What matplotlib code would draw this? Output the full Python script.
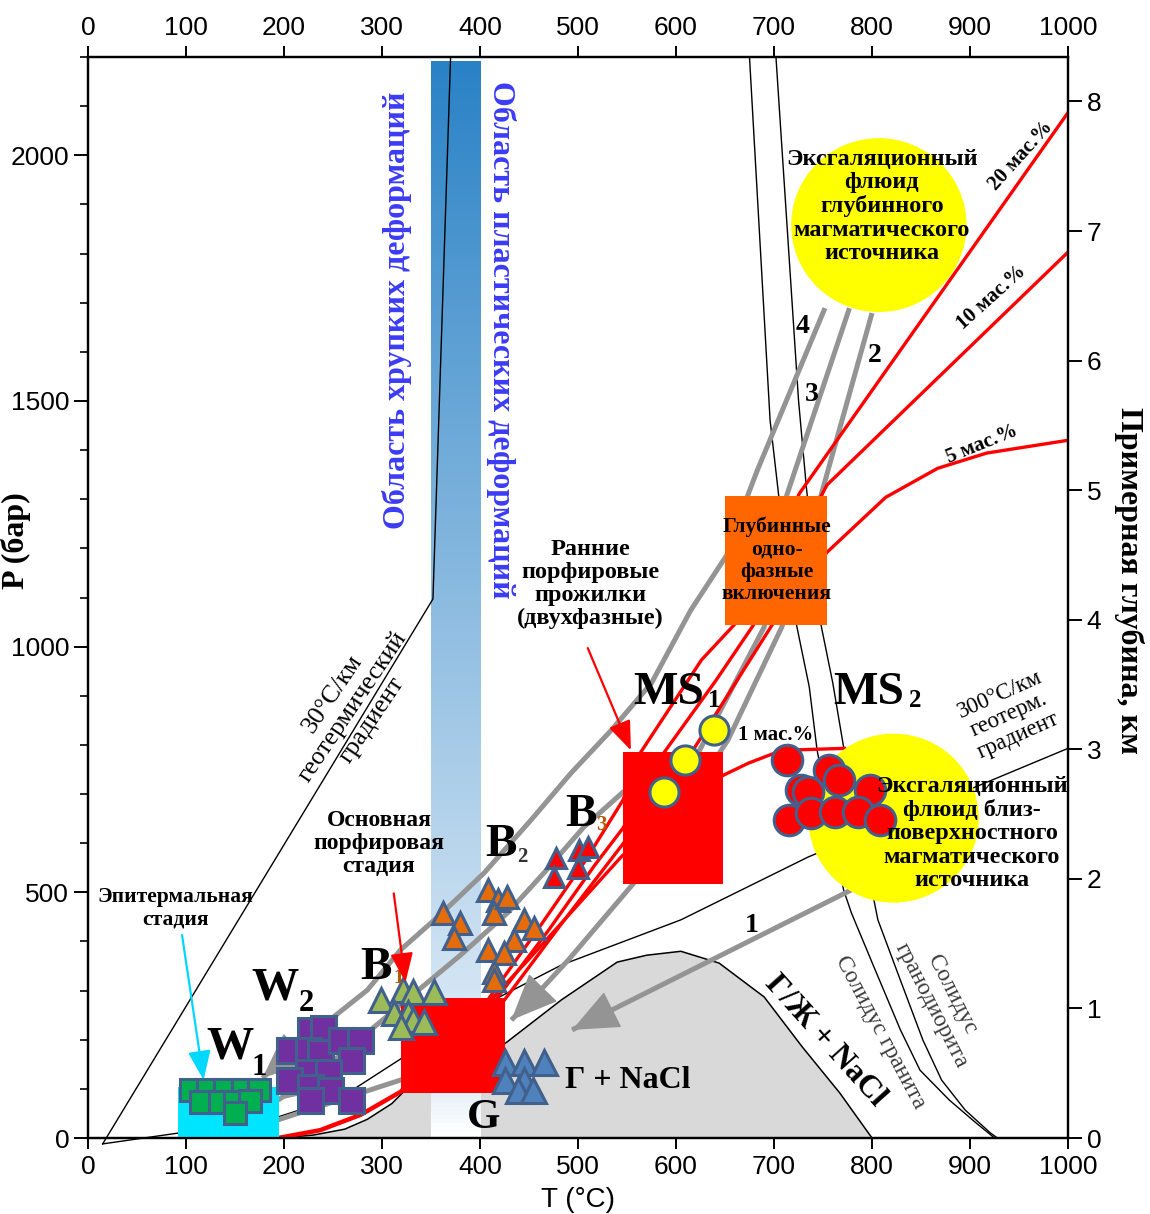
import numpy as np
import matplotlib
matplotlib.use('Agg')
import matplotlib.pyplot as plt
from matplotlib.patches import Rectangle, Ellipse, Polygon
from matplotlib.colors import LinearSegmentedColormap

SERIF = ['Liberation Serif', 'DejaVu Serif']
SANS = ['Liberation Sans', 'DejaVu Sans']

# ---------------- data (T in °C, P in bar) ----------------
x_ticks = list(range(0, 1001, 100))
p_major = [0, 500, 1000, 1500, 2000]
depth_ticks = [0, 1, 2, 3, 4, 5, 6, 7, 8]
BAR_PER_KM = 263.7

geo30_T = [15, 352, 370]
geo30_P = [-12, 1097, 2200]

geo300_T = [15, 92, 194, 260, 330, 418, 483, 605, 735, 905, 1000]
geo300_P = [-12, 10, 43, 85, 175, 285, 352, 444, 572, 714, 793]

halite_T = [195, 230, 262, 285, 310, 325, 370, 426, 483, 540, 570, 605, 644, 690, 729, 767, 800]
halite_P = [0, 6, 18, 38, 70, 100, 150, 193, 281, 358, 372, 380, 356, 287, 185, 92, 0]

granite_T = [675, 696, 705, 723, 736, 744, 771, 779, 802, 829, 849, 879, 906, 925]
granite_P = [2200, 1461, 1304, 1044, 918, 789, 505, 458, 348, 220, 138, 77, 31, 0]

granodiorite_T = [702, 725, 733, 748, 760, 771, 802, 806, 829, 852, 871, 895, 921, 928]
granodiorite_P = [2200, 1502, 1325, 1044, 926, 796, 484, 444, 321, 199, 118, 57, 10, 0]

# salinity curves (L+V boundaries)
r1_T = [194, 237, 278, 319, 370, 411, 449, 544, 600, 649, 674, 708, 772]
r1_P = [0, 16, 47, 94, 190, 281, 362, 572, 680, 739, 763, 789, 793]
r20_T = [408, 462, 508, 546, 564, 626, 662, 726, 1000]
r20_P = [281, 433, 566, 688, 785, 973, 1050, 1312, 2087]
r10_T = [416, 470, 517, 546, 588, 641, 679, 754, 1000]
r10_P = [281, 423, 555, 631, 785, 932, 1044, 1329, 1803]
r5_T = [425, 482, 546, 616, 698, 754, 814, 867, 917, 1000]
r5_P = [281, 433, 599, 785, 1044, 1192, 1304, 1363, 1394, 1420]

# fluid paths (grey)
path4_T = [752, 683, 674, 653, 615, 575, 534, 493, 452, 404, 357, 319, 285, 234, 178]
path4_P = [1689, 1359, 1312, 1190, 1074, 926, 830, 743, 647, 539, 450, 383, 301, 220, 122]
path3_T = [777, 713, 690, 623, 546, 506, 465, 428, 380, 319, 258, 194]
path3_P = [1689, 1308, 1040, 785, 704, 633, 539, 458, 372, 271, 169, 77]
path2_T = [800, 748, 708, 653, 557, 490, 459, 432]
path2_P = [1679, 1308, 1040, 810, 519, 362, 295, 240]
path1_T = [779, 494]
path1_P = [505, 220]
path5_T = [319, 194]
path5_P = [118, 37]

# sample groups
W1_T = [105, 122, 140, 158, 175, 115, 135, 150, 165, 150]
W1_P = [98, 98, 98, 98, 98, 73, 73, 73, 75, 50]
W2_T = [227, 240, 205, 225, 237, 258, 278, 268, 224, 245, 205, 227, 247, 268, 227]
W2_P = [220, 224, 179, 179, 175, 199, 199, 159, 134, 134, 118, 104, 98, 77, 77]
B1_T = [299, 321, 332, 353, 312, 327, 332, 343, 319]
B1_P = [281, 301, 297, 297, 254, 254, 240, 236, 226]
B2_T = [362, 380, 373, 408, 418, 414, 428, 445, 455, 435, 408, 424, 414, 414]
B2_P = [458, 437, 407, 505, 484, 458, 490, 444, 427, 403, 383, 376, 338, 321]
B3_T = [478, 476, 501, 510, 500]
B3_P = [570, 531, 586, 592, 549]
G_T = [426, 445, 465, 426, 445, 439, 454]
G_P = [155, 155, 155, 118, 118, 98, 98]
MS1_T = [639, 609, 588]
MS1_P = [830, 769, 704]
MS2_T = [713, 756, 766, 728, 735, 798, 715, 738, 762, 786, 808]
MS2_P = [769, 749, 728, 708, 704, 708, 647, 661, 663, 663, 647]

# boxes: (T0, T1, P0, P1)
box_W1 = (92, 195, 0, 104)
box_low = (319, 426, 92, 285)
box_MS1 = (546, 648, 517, 785)
box_deep = (650, 754, 1044, 1306)
band = (350, 400, 0, 2190)
# circles: (T centre, P centre, half-width °C, half-height bar)
circ_deep = (807, 1858, 89.5, 177)
circ_shallow = (822, 651, 87, 172)

# ---------------- figure ----------------
fig = plt.figure(figsize=(11.5, 12.14), dpi=100)
ax = fig.add_axes([0.0765, 0.0626, 0.8522, 0.8904])
ax.set_xlim(0, 1000)
ax.set_ylim(0, 2200)

GREY = '#949494'
RED = '#ff0000'
EDGE = '#41608c'

# halite field
poly = list(zip(halite_T, halite_P))
ax.add_patch(Polygon(poly, closed=True, facecolor='#d9d9d9', edgecolor='none', zorder=1))
ax.plot(halite_T, halite_P, color='black', lw=1.1, zorder=3)

# gradient band
cmap = LinearSegmentedColormap.from_list('band', [(0, 'white'), (0.04, '#e6f0f9'), (1, '#2a82c6')])
grad = np.linspace(0, 1, 256).reshape(-1, 1)
ax.imshow(grad, extent=[band[0], band[1], band[2], band[3]], origin='lower', cmap=cmap,
          aspect='auto', zorder=2, interpolation='bicubic')

# thin black lines
ax.plot(geo30_T, geo30_P, color='black', lw=1.0, zorder=3, clip_on=False)
ax.plot(geo300_T, geo300_P, color='black', lw=1.0, zorder=3, clip_on=False)
ax.plot(granite_T, granite_P, color='black', lw=1.0, zorder=3)
ax.plot(granodiorite_T, granodiorite_P, color='black', lw=1.0, zorder=3)

# grey fluid paths
def grey_path(T, P):
    ax.plot(T, P, color=GREY, lw=3.6, zorder=4, solid_capstyle='butt')
    ax.annotate('', xy=(T[-1], P[-1]), xytext=(T[-2], P[-2]),
                arrowprops=dict(arrowstyle='-|>,head_length=1.4,head_width=0.6', color=GREY,
                                lw=1, mutation_scale=22, shrinkA=0, shrinkB=0), zorder=4)

for T, P in [(path4_T, path4_P), (path3_T, path3_P), (path2_T, path2_P), (path1_T, path1_P)]:
    grey_path(T, P)
ax.plot(path5_T, path5_P, color=GREY, lw=3.6, zorder=4)

# red salinity curves
ax.plot(r1_T[:5], r1_P[:5], color=RED, lw=3.2, zorder=5)
ax.plot(r1_T[4:], r1_P[4:], color=RED, lw=2.4, zorder=5)
for T, P in [(r20_T, r20_P), (r10_T, r10_P), (r5_T, r5_P)]:
    ax.plot(T, P, color=RED, lw=2.4, zorder=5)

# boxes
def box(b, color):
    ax.add_patch(Rectangle((b[0], b[2]), b[1] - b[0], b[3] - b[2], facecolor=color,
                           edgecolor='none', zorder=6, clip_on=False))
box(box_W1, '#00e5ff')
box(box_low, RED)
box(box_MS1, RED)
box(box_deep, '#ff6600')

for c in (circ_deep, circ_shallow):
    ax.add_patch(Ellipse((c[0], c[1]), 2 * c[2], 2 * c[3], facecolor='#ffff00', edgecolor='none', zorder=6))

# markers
def pts(T, P, m, fc, ms):
    ax.plot(T, P, linestyle='none', marker=m, markersize=ms, markerfacecolor=fc,
            markeredgecolor=EDGE, markeredgewidth=2.2, zorder=8, clip_on=False)
pts(W1_T, W1_P, 's', '#00b050', 16)
pts(W2_T, W2_P, 's', '#7030a0', 18)
pts(B1_T, B1_P, '^', '#9bbb59', 17)
pts(B2_T, B2_P, '^', '#e46c0a', 16)
pts(B3_T, B3_P, '^', '#ff0000', 15)
pts(G_T, G_P, '^', '#4f81bd', 18)
pts(MS1_T, MS1_P, 'o', '#ffff00', 21)
pts(MS2_T, MS2_P, 'o', '#ff0000', 22)

# ---------------- texts ----------------
def txt(x, y, s, size, rot=0, weight='bold', color='black', family=SERIF, ls=1.15, z=9, ha='center'):
    ax.text(x, y, s, fontsize=size, rotation=rot, fontweight=weight, color=color, family=family,
            ha=ha, va='center', multialignment='center', linespacing=ls,
            rotation_mode='anchor', zorder=z)

BIG = 34
def lab(x, y, s, sx, sy, sub, subsize, subcolor='black'):
    txt(x, y, s, BIG)
    txt(sx, sy, sub, subsize, color=subcolor, ha='left')

lab(145, 185, 'W', 167, 144, '1', 22)
lab(191, 305, 'W', 215, 273, '2', 22)
lab(294, 346, 'B', 312, 326, '1', 15, '#b35900')
lab(421, 596, 'B', 438, 572, '2', 15, '#333333')
lab(503, 657, 'B', 519, 637, '3', 15, '#b35900')
lab(593, 905, 'MS', 633, 891, '1', 18)
lab(797, 905, 'MS', 838, 891, '2', 18)
txt(404, 41, 'G', 31)

txt(810, 1896, 'Эксгаляционный\nфлюид\nглубинного\nмагматического\nисточника', 17.5, ls=1.13)
txt(902, 620, 'Эксгаляционный\nфлюид близ-\nповерхностного\nмагматического\nисточника', 17.5, ls=1.13)
txt(703, 1176, 'Глубинные\nодно-\nфазные\nвключения', 15.5, ls=1.15)
txt(513, 1127, 'Ранние\nпорфировые\nпрожилки\n(двухфазные)', 17.5, ls=1.13)
txt(297, 600, 'Основная\nпорфировая\nстадия', 17, ls=1.13)
txt(89, 468, 'Эпитермальная\nстадия', 15.5, ls=1.13)

txt(702, 820, '1 мас.%', 15)
txt(912, 1412, '5 мас.%', 15, rot=22)
txt(922, 1711, '10 мас.%', 15, rot=42)
txt(952, 2000, '20 мас.%', 15, rot=48)

txt(729, 1652, '4', 20)
txt(739, 1514, '3', 20)
txt(803, 1593, '2', 20)
txt(677, 433, '1', 20)

txt(270, 877, '30°C/км\nгеотермический\nградиент', 18.5, rot=56, weight='normal', ls=1.1)
txt(940, 861, '300°C/км\nгеотерм.\nградиент', 16.5, rot=24, weight='normal', ls=1.1)
txt(808, 216, 'Солидус гранита', 17, rot=-62, weight='normal', color='#3a3a3a')
txt(871, 281, 'Солидус\nгранодиорита', 17, rot=-63, weight='normal', color='#3a3a3a', ls=1.1)
txt(752, 199, 'Г/Ж + NaCl', 23, rot=-48)
txt(551, 118, 'Г + NaCl', 23)

txt(315, 1685, 'Область хрупких деформаций', 23, rot=90, color='#3b3bf5')
txt(421, 1624, 'Область пластических деформаций', 23, rot=270, color='#3b3bf5')

# annotation arrows
def arrow(x0, y0, x1, y1, color):
    ax.annotate('', xy=(x1, y1), xytext=(x0, y0),
                arrowprops=dict(arrowstyle='-|>,head_length=0.9,head_width=0.35', color=color,
                                lw=1.6, mutation_scale=20, shrinkA=0, shrinkB=0), zorder=9)
arrow(96, 413, 118, 118, '#00d8ff')
arrow(312, 498, 324, 317, RED)
arrow(510, 997, 554, 789, RED)

# ---------------- axes styling ----------------
for s in ax.spines.values():
    s.set_linewidth(1.6)
ax.set_xticks(x_ticks)
ax.set_yticks(p_major)
ax.set_yticks(range(0, 2201, 100), minor=True)
ax.tick_params(axis='x', which='both', top=True, labeltop=True, bottom=True, labelbottom=True,
               direction='out', length=8, width=1.4, labelsize=19, pad=4)
ax.tick_params(axis='y', which='major', direction='out', length=10, width=1.4, labelsize=19)
ax.tick_params(axis='y', which='minor', direction='out', length=6, width=1.2)
for lbl in ax.get_xticklabels() + ax.get_yticklabels():
    lbl.set_family(SANS)
ax.set_xlabel('T (°C)', fontsize=20, family=SANS, labelpad=6)
ax.set_ylabel('P (бар)', fontsize=23, family=SERIF, fontweight='bold')
ax.yaxis.set_label_coords(-0.058, 0.553)

ax2 = ax.twinx()
ax2.set_ylim(0, 2200 / BAR_PER_KM)
ax2.set_yticks(depth_ticks)
ax2.tick_params(axis='y', direction='out', length=10, width=1.4, labelsize=19)
for lbl in ax2.get_yticklabels():
    lbl.set_family(SANS)
ax2.set_ylabel('Примерная глубина, км', fontsize=23, family=SERIF, fontweight='bold',
               rotation=270, va='center')
ax2.yaxis.set_label_coords(1.062, 0.516)
for s in ax2.spines.values():
    s.set_linewidth(1.6)

fig.savefig('out.png', dpi=100)
